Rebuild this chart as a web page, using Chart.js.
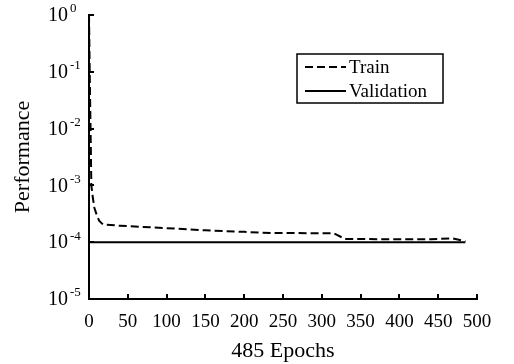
<!DOCTYPE html>
<html>
<head>
<meta charset="utf-8">
<script src="https://cdn.jsdelivr.net/npm/chart.js@4/dist/chart.umd.min.js"></script>
<style>
html,body{margin:0;padding:0;background:#fff}
#wrap{width:514px;height:364px}
</style>
</head>
<body>
<div id="wrap"><canvas id="c" width="514" height="364"></canvas></div>
<script>
// values
const trainEpochs = [0, 1, 2, 3, 5, 7, 10, 13, 18, 40, 90, 150, 200, 235, 315, 330, 380, 440, 468, 485]
const trainPerf = [1, 0.08, 0.01, 0.001, 0.0006, 0.0004, 0.0003, 0.00024, 0.000205, 0.000195, 0.00018, 0.000162, 0.000152, 0.000145, 0.000144, 0.000114, 0.000113, 0.000113, 0.000117, 0.000104]
const validEpochs = [0, 485]
const validPerf = [0.0001, 0.0001]
const yTickVals = [1, 0.1, 0.01, 0.001, 0.0001, 0.00001]
const yExponents = ["0", "-1", "-2", "-3", "-4", "-5"]
const xTitle = "485 Epochs"
const yTitle = "Performance"

const FONT = "'Liberation Serif', 'Times New Roman', serif"

function pts(xs, ys){
return xs.map((x,i)=>({x:x, y:ys[i]}))
}

// inner tick marks, power-of-ten labels and the boxed legend
const extras = {
id:"extras",
afterDraw(chart){
const ctx = chart.ctx
const xs = chart.scales.x
const ys = chart.scales.y
const a = chart.chartArea
ctx.save()
ctx.strokeStyle = "#000"
ctx.lineWidth = 2
ctx.beginPath()
xs.ticks.forEach(t=>{
if(t.value===0) return
const px = Math.round(xs.getPixelForValue(t.value))
ctx.moveTo(px, a.bottom)
ctx.lineTo(px, a.bottom-5)
})
yTickVals.forEach(v=>{
if(v===yTickVals[yTickVals.length-1]) return
const py = Math.round(ys.getPixelForValue(v))
ctx.moveTo(a.left, py)
ctx.lineTo(a.left+5, py)
})
ctx.stroke()

// y labels 10^n
ctx.fillStyle = "#000"
ctx.textBaseline = "middle"
ctx.textAlign = "left"
yTickVals.forEach((v,i)=>{
const py = ys.getPixelForValue(v)
ctx.font = "20px "+FONT
ctx.fillText("10", 48, py+1)
ctx.font = "13px "+FONT
ctx.fillText(yExponents[i], 70, py-6)
})

// legend
const bx = 297, by = 54, bw = 146, bh = 49
ctx.lineWidth = 1.5
ctx.strokeRect(bx, by, bw, bh)
const rows = [67, 91]
chart.data.datasets.forEach((ds,i)=>{
const y = rows[i]
ctx.beginPath()
ctx.lineWidth = 2
ctx.setLineDash(ds.borderDash || [])
ctx.moveTo(305, y)
ctx.lineTo(346, y)
ctx.stroke()
ctx.setLineDash([])
ctx.font = "19px "+FONT
ctx.textBaseline = "middle"
ctx.fillText(ds.label, 349, y+1)
})
ctx.restore()
}
}

new Chart(document.getElementById("c"),{
type:"line",
data:{
datasets:[
{
label:"Train",
data:pts(trainEpochs, trainPerf),
borderColor:"#000",
borderWidth:2,
borderDash:[8,4],
pointRadius:0,
tension:0
},
{
label:"Validation",
data:pts(validEpochs, validPerf),
borderColor:"#000",
borderWidth:2,
pointRadius:0,
tension:0
}
]
},
options:{
responsive:false,
animation:false,
layout:{padding:{top:15, right:37, left:0, bottom:0}},
plugins:{legend:{display:false}, tooltip:{enabled:false}},
scales:{
x:{
type:"linear",
min:0, max:500,
ticks:{stepSize:50, color:"#000", font:{family:FONT, size:19}, padding:12, maxRotation:0},
grid:{drawOnChartArea:false, drawTicks:false},
border:{color:"#000", width:2},
title:{display:true, text:xTitle, color:"#000", font:{family:FONT, size:22, lineHeight:1}, padding:{top:0, bottom:2}},
afterFit(s){ s.height = 65 }
},
y:{
type:"logarithmic",
min:0.00001, max:1,
afterBuildTicks(s){ s.ticks = yTickVals.map(v=>({value:v})) },
ticks:{display:false},
grid:{drawOnChartArea:false, drawTicks:false},
border:{color:"#000", width:2},
title:{display:true, text:yTitle, color:"#000", font:{family:FONT, size:22, lineHeight:1.2}, padding:{top:10, bottom:0}},
afterFit(s){ s.width = 89 }
}
}
},
plugins:[extras]
})
</script>
</body>
</html>
